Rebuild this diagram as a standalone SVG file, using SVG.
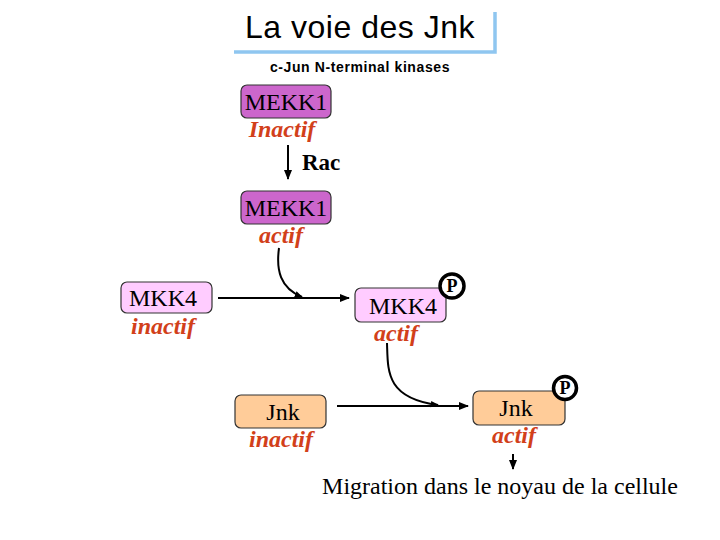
<svg xmlns="http://www.w3.org/2000/svg" width="720" height="540" viewBox="0 0 720 540">
<style>
.serif{font-family:"Liberation Serif","Times New Roman",serif;}
.lbl{font-family:"Liberation Serif","Times New Roman",serif;font-size:24px;fill:#000;text-anchor:middle;}
.st{font-family:"Liberation Serif","Times New Roman",serif;font-size:24px;font-weight:bold;font-style:italic;fill:#D2401A;text-anchor:middle;}
.box{stroke:#333;stroke-width:1.2;}
.line{fill:none;stroke:#000;stroke-width:2;}
.pc{fill:#fff;stroke:#000;stroke-width:3.5;}
.pt{font-family:"Liberation Serif","Times New Roman",serif;font-size:18px;font-weight:bold;text-anchor:middle;}
</style>
<defs>
<marker id="ah" viewBox="0 0 10 10" refX="9" refY="5" markerWidth="5" markerHeight="5" orient="auto" markerUnits="strokeWidth">
<path d="M0,1 L10,5 L0,9 z" fill="#000"/>
</marker>
<marker id="ahs" viewBox="0 0 10 10" refX="9" refY="5" markerWidth="4" markerHeight="4" orient="auto" markerUnits="strokeWidth">
<path d="M0,1 L10,5 L0,9 z" fill="#000"/>
</marker>
</defs>
<rect width="720" height="540" fill="#fff"/>
<g id="title">
<path d="M234,52 L495,52 L495,12" fill="none" stroke="#8FC6F0" stroke-width="3.5"/>
<text x="360" y="38" font-family="Liberation Sans, Arial, sans-serif" font-size="32" text-anchor="middle" letter-spacing="0.5">La voie des Jnk</text>
<text x="360" y="72" font-family="Liberation Sans, Arial, sans-serif" font-size="14" font-weight="bold" text-anchor="middle" letter-spacing="0.6">c-Jun N-terminal kinases</text>
</g>
<g id="connectors">
<line class="line" x1="288" y1="145" x2="288" y2="179" marker-end="url(#ah)"/>
<text x="302" y="170" class="serif" font-size="23" font-weight="bold">Rac</text>
<path class="line" d="M279,248 C276,270 280,288 302,297" marker-end="url(#ahs)"/>
<line class="line" x1="218" y1="298" x2="349" y2="298" marker-end="url(#ah)"/>
<path class="line" d="M387,343 C388,370 385,398 438,405" marker-end="url(#ahs)"/>
<line class="line" x1="337" y1="406" x2="468" y2="406" marker-end="url(#ah)"/>
<line class="line" x1="513" y1="454" x2="513" y2="469" marker-end="url(#ah)"/>
</g>
<g id="mekk1-inactif">
<rect class="box" x="241" y="85" width="90" height="33" rx="6" fill="#CC66CC"/>
<text class="lbl" x="286" y="110">MEKK1</text>
<text class="st" x="282" y="137">Inactif</text>
</g>
<g id="mekk1-actif">
<rect class="box" x="241" y="191" width="90" height="33" rx="6" fill="#CC66CC"/>
<text class="lbl" x="286" y="216">MEKK1</text>
<text class="st" x="281" y="243">actif</text>
</g>
<g id="mkk4-inactif">
<rect class="box" x="121" y="282" width="91" height="31" rx="6" fill="#FFCCFF"/>
<text class="lbl" x="163" y="306">MKK4</text>
<text class="st" x="163" y="334">inactif</text>
</g>
<g id="mkk4-actif">
<rect class="box" x="355" y="288" width="91" height="34" rx="6" fill="#FFCCFF"/>
<text class="lbl" x="403" y="314">MKK4</text>
<text class="st" x="396" y="341">actif</text>
<circle class="pc" cx="452" cy="286" r="12"/>
<text class="pt" x="452" y="292">P</text>
</g>
<g id="jnk-inactif">
<rect class="box" x="235" y="395" width="91" height="33" rx="6" fill="#FFCC99"/>
<text class="lbl" x="283" y="420">Jnk</text>
<text class="st" x="281" y="447">inactif</text>
</g>
<g id="jnk-actif">
<rect class="box" x="473" y="391" width="92" height="34" rx="6" fill="#FFCC99"/>
<text class="lbl" x="516" y="416">Jnk</text>
<text class="st" x="514" y="443">actif</text>
<circle class="pc" cx="565" cy="388" r="11.5"/>
<text class="pt" x="565" y="394">P</text>
</g>
<g id="migration">
<text x="500" y="494" class="serif" font-size="24" text-anchor="middle">Migration dans le noyau de la cellule</text>
</g>
</svg>
